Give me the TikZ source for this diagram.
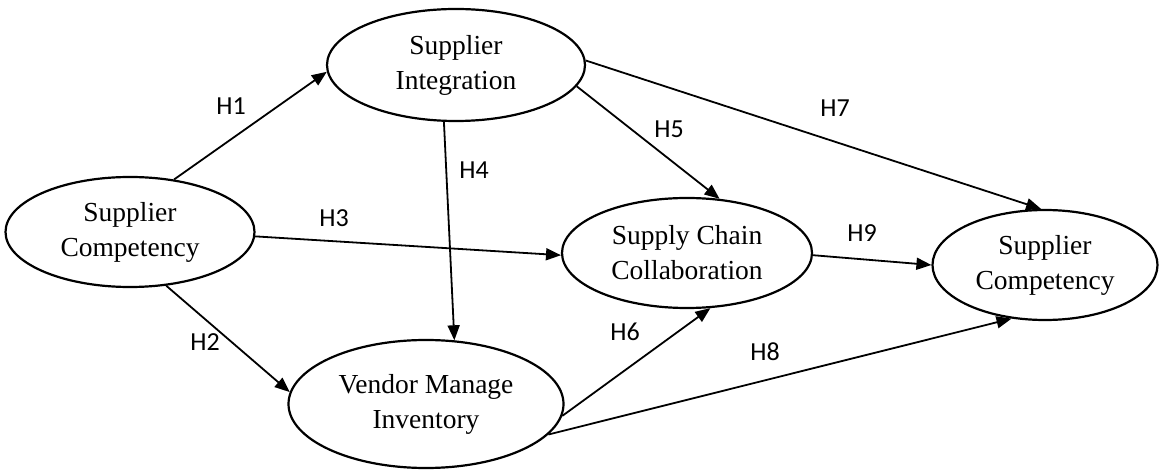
\documentclass[tikz,border=0pt]{standalone}
\usepackage{fontspec}
\setmainfont{Liberation Serif}
\newfontfamily\hfont{Carlito}
\usetikzlibrary{shapes.geometric}
\usetikzlibrary{arrows.meta}
\tikzset{
	varstyle/.style={ellipse, draw=black, line width=2.2pt, fill=white, inner sep=0pt,
		align=center, font=\fontsize{27.5}{35}\selectfont},
	hypstyle/.style={inner sep=0pt, font=\hfont\fontsize{26}{30}\selectfont}
}

\begin{document}
\begin{tikzpicture}[x=1pt, y=-1pt, >={Triangle[length=15pt,width=12pt]}, line width=1.8pt]

\useasboundingbox (0,0) rectangle (1159,470);

\node[varstyle, minimum width=249, minimum height=110] (comp1) at (130,232) {Supplier\\Competency};
\node[varstyle, minimum width=258, minimum height=112] (integ) at (456,65)  {Supplier\\Integration};
\node[varstyle, minimum width=275, minimum height=128] (vmi)   at (426,404) {Vendor Manage\\Inventory};
\node[varstyle, minimum width=250, minimum height=110] (scc)   at (687,253) {Supply Chain\\Collaboration};
\node[varstyle, minimum width=225, minimum height=110] (comp2) at (1045,265) {Supplier\\Competency};

\node[hypstyle] (h1) at (231,106) {H1};
\node[hypstyle] (h2) at (205,342) {H2};
\node[hypstyle] (h3) at (334,218) {H3};
\node[hypstyle] (h4) at (474,170) {H4};
\node[hypstyle] (h5) at (669,129) {H5};
\node[hypstyle] (h6) at (625,332) {H6};
\node[hypstyle] (h7) at (835,108) {H7};
\node[hypstyle] (h8) at (765,352) {H8};
\node[hypstyle] (h9) at (862,233) {H9};

\draw[->] (comp1.50)--(integ.183);
\draw[->] (comp1.-56)--(vmi.175);
\draw[->] (comp1.-2)--(scc.181);
\draw[->] (integ.-102)--(vmi.66);
\draw[->] (integ.-10)--(scc.59);
\draw[->] (integ.2)--(comp2.94);
\draw[->] (vmi.-5)--(scc.-67);
\draw[->] (vmi.-14)--(comp2.238);
\draw[->] (scc.-1)--(comp2.180);
\end{tikzpicture}
\end{document}
